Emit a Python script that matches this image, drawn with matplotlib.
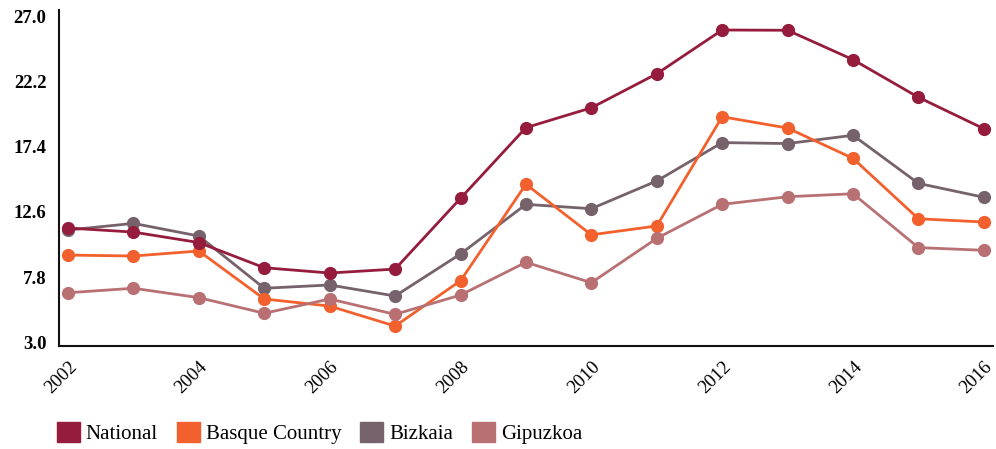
import matplotlib
matplotlib.use("Agg")
import matplotlib.pyplot as plt
from matplotlib.patches import Patch

years = list(range(2002, 2017))

national = [11.42, 11.12, 10.35, 8.5, 8.11, 8.4, 13.6, 18.8, 20.26, 22.76, 25.98, 25.96, 23.8, 21.03, 18.72]
basque = [9.43, 9.36, 9.73, 6.2, 5.68, 4.21, 7.54, 14.64, 10.92, 11.57, 19.6, 18.77, 16.54, 12.1, 11.86]
bizkaia = [11.27, 11.76, 10.83, 6.99, 7.23, 6.42, 9.51, 13.16, 12.84, 14.88, 17.7, 17.63, 18.24, 14.7, 13.68]
gipuzkoa = [6.66, 6.99, 6.3, 5.15, 6.2, 5.07, 6.49, 8.9, 7.4, 10.66, 13.16, 13.72, 13.94, 9.98, 9.78]

yticks = [3.0, 7.8, 12.6, 17.4, 22.2, 27.0]
xticks = list(range(2002, 2017, 2))

c_nat = "#951c3c"
c_bas = "#f2612d"
c_biz = "#76626b"
c_gip = "#b87073"

plt.rcParams["font.family"] = ["Liberation Serif", "DejaVu Serif"]

fig = plt.figure(figsize=(9.96, 4.49), dpi=100)
ax = fig.add_axes([0.0592, 0.2305, 0.9378, 0.7472])

# drawing order matters for the overlaps
series = [
    (bizkaia, c_biz, "Bizkaia"),
    (basque, c_bas, "Basque Country"),
    (gipuzkoa, c_gip, "Gipuzkoa"),
    (national, c_nat, "National"),
]
for vals, col, name in series:
    ax.plot(years, vals, color=col, lw=2.0, marker="o", ms=9.5,
            markeredgewidth=0, solid_capstyle="round")

ax.set_xlim(2001.862, 2016.14)
ax.set_ylim(2.78, 27.45)
ax.set_yticks(yticks)
ax.set_yticklabels(["%.1f" % v for v in yticks], fontsize=13.5, fontweight="bold")
ax.set_xticks(xticks)
ax.set_xticklabels([str(y) for y in xticks], fontsize=13.5, rotation=45,
                   ha="right", rotation_mode="anchor")
ax.tick_params(length=0, pad=9)
for s in ["top", "right"]:
    ax.spines[s].set_visible(False)
for s in ["left", "bottom"]:
    ax.spines[s].set_linewidth(1.5)
    ax.spines[s].set_color("#111111")

handles = [Patch(color=c_nat, label="National"),
           Patch(color=c_bas, label="Basque Country"),
           Patch(color=c_biz, label="Bizkaia"),
           Patch(color=c_gip, label="Gipuzkoa")]
fig.legend(handles=handles, loc="lower left", bbox_to_anchor=(0.038, -0.03),
           ncol=4, frameon=False, fontsize=15, handlelength=1.1, handleheight=1.1,
           handletextpad=0.3, columnspacing=0.9)

fig.savefig("out.png", dpi=100)
